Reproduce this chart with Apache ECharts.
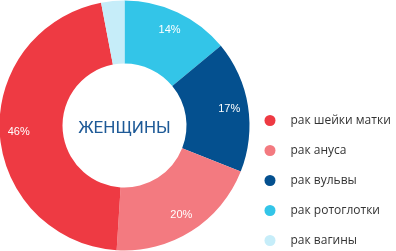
<!DOCTYPE html>
<html><head><meta charset="utf-8">
<script src="https://cdn.jsdelivr.net/npm/echarts@6/dist/echarts.min.js"></script>
<style>html,body{margin:0;padding:0;background:#fff}#c{width:396px;height:251px}</style>
</head><body><div id="c"></div>
<script>
const categories = ['рак ротоглотки', 'рак вульвы', 'рак ануса', 'рак шейки матки', 'рак вагины'];
const values = [14, 17, 20, 46, 3];
const colors = ['#33C5E8', '#04508F', '#F37A80', '#EE3A43', '#C6EDF9'];
const legendOrder = ['рак шейки матки', 'рак ануса', 'рак вульвы', 'рак ротоглотки', 'рак вагины'];
const centerText = 'ЖЕНЩИНЫ';

const data = categories.map((n, i) => ({ name: n, value: values[i], itemStyle: { color: colors[i] } }));
const chart = echarts.init(document.getElementById('c'));
chart.setOption({
  animation: false,
  legend: {
    orient: 'vertical', left: 264.5, top: 114.5, height: 140, padding: 0,
    itemWidth: 11, itemHeight: 11, itemGap: 18,
    icon: 'circle', data: legendOrder,
    textStyle: { fontFamily: 'Open Sans', fontSize: 12, color: '#333', padding: [0, 0, 0, 10] }
  },
  series: [
    {
      type: 'pie', center: [124.5, 125.5], radius: [62, 125], startAngle: 90, clockwise: true,
      label: { show: false }, labelLine: { show: false }, data: data, silent: true
    },
    {
      type: 'pie', center: [124.5, 125.5], radius: [81, 125], startAngle: 90, clockwise: true,
      itemStyle: { color: 'rgba(0,0,0,0)' }, silent: true, labelLine: { show: false },
      label: {
        show: true, position: 'inside', color: '#fff', fontFamily: 'Liberation Sans', fontSize: 11,
        formatter: p => p.value >= 5 ? p.value + '%' : ''
      },
      data: categories.map((n, i) => ({ name: n, value: values[i], itemStyle: { color: 'rgba(0,0,0,0)' } }))
    }
  ],
  graphic: [{
    type: 'text', x: 124.5, y: 129,
    style: { text: centerText, fontFamily: 'Roboto', fontSize: 17, fill: '#1E5A97', align: 'center', verticalAlign: 'middle' }
  }]
});
</script></body></html>
